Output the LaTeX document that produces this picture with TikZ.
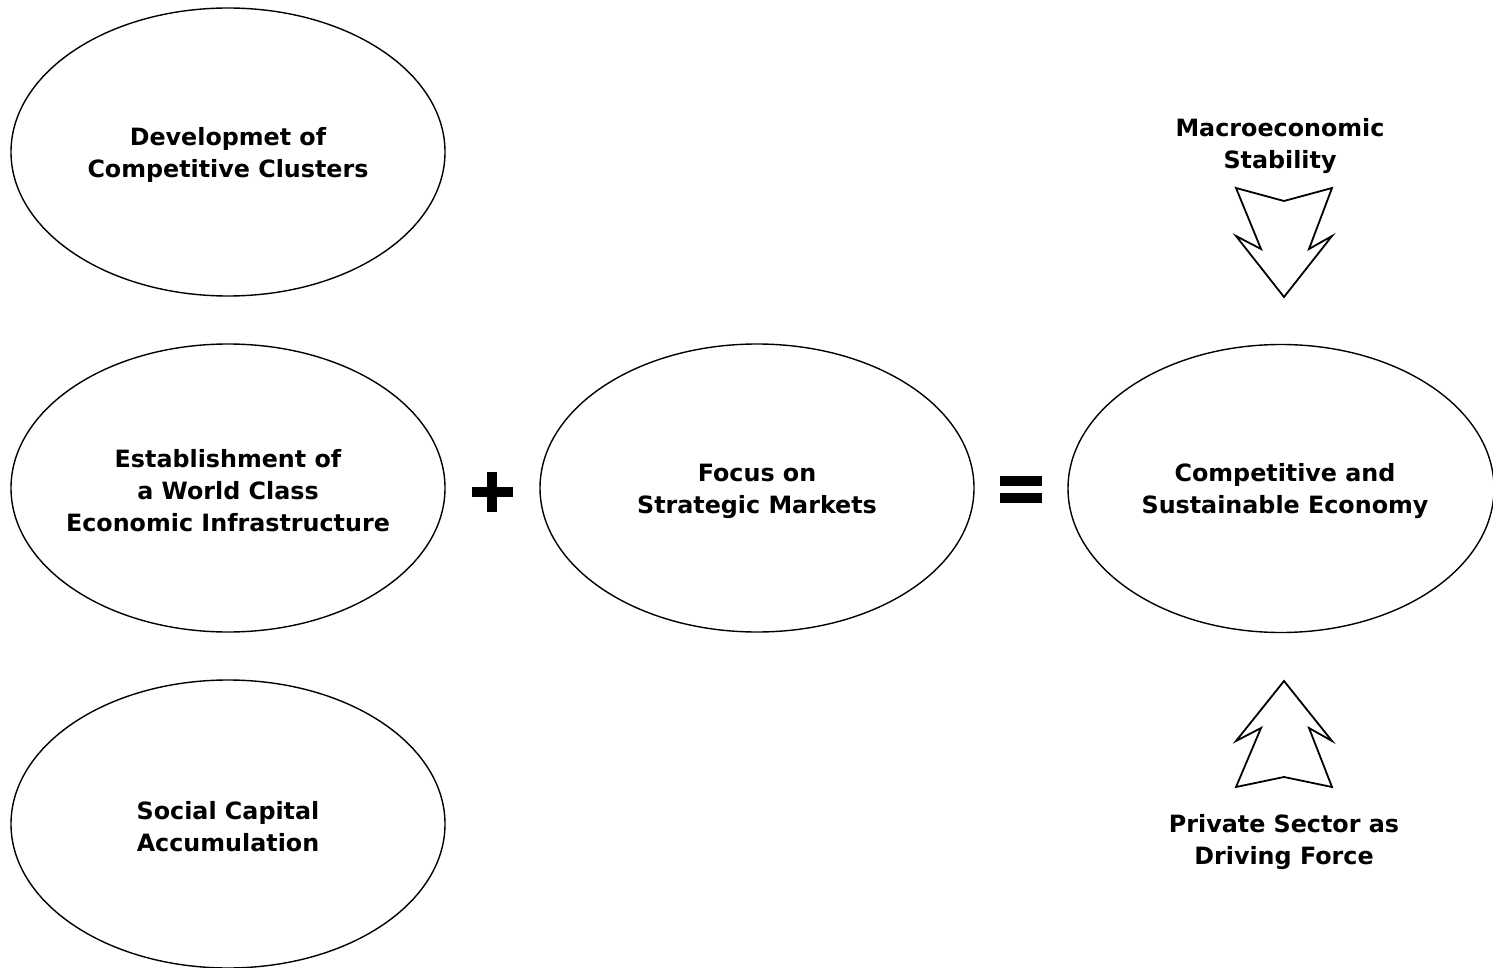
\documentclass[tikz,border=0pt]{standalone}
\usepackage{fontspec}
\setmainfont{DejaVu Sans}
\usetikzlibrary{shapes.geometric}
\begin{document}
\begin{tikzpicture}[x=0.5pt,y=-0.5pt,
  oval/.style={draw,line width=0.7pt,ellipse,inner sep=0pt,minimum width=217pt,minimum height=144pt},
  lbl/.style={font=\fontsize{11.9}{16}\selectfont\bfseries,align=center,inner sep=0pt},
  bigarrow/.style={draw,line width=0.9pt,line join=miter},
  sign/.style={fill=black}]
\useasboundingbox (0,0) rectangle (1493,968);
\node[oval] (clusters) at (228,152) {};
\node[oval] (infra) at (228,488) {};
\node[oval] (social) at (228,824) {};
\node[oval] (focus) at (757,488) {};
\node[oval,minimum width=213pt] (econ) at (1281,488.5) {};
\node[lbl] (tclusters) at (228,155) {Developmet of\\Competitive Clusters};
\node[lbl] (tinfra) at (228,491) {Establishment of\\a World Class\\Economic Infrastructure};
\node[lbl] (tsocial) at (228,827) {Social Capital\\Accumulation};
\node[lbl] (tfocus) at (757,491) {Focus on\\Strategic Markets};
\node[lbl] (tecon) at (1285,491) {Competitive and\\Sustainable Economy};
\node[lbl] (tmacro) at (1280,146.5) {Macroeconomic\\Stability};
\node[lbl] (tprivate) at (1284,842) {Private Sector as\\Driving Force};
% down arrow
\draw[bigarrow] (1236,188) -- (1284,201) -- (1332,188) -- (1309,249) -- (1332,236) -- (1284,297) -- (1236,236) -- (1261,249) -- cycle;
% up arrow
\draw[bigarrow] (1284,681) -- (1332,741) -- (1309,728) -- (1332,787) -- (1284,777) -- (1236,787) -- (1261,728) -- (1236,741) -- cycle;
% plus
\fill[sign] (487,472) rectangle (497,512);
\fill[sign] (472,487) rectangle (513,497);
% equals
\fill[sign] (1000,476) rectangle (1042,486);
\fill[sign] (1000,493) rectangle (1042,503);
\end{tikzpicture}
\end{document}
